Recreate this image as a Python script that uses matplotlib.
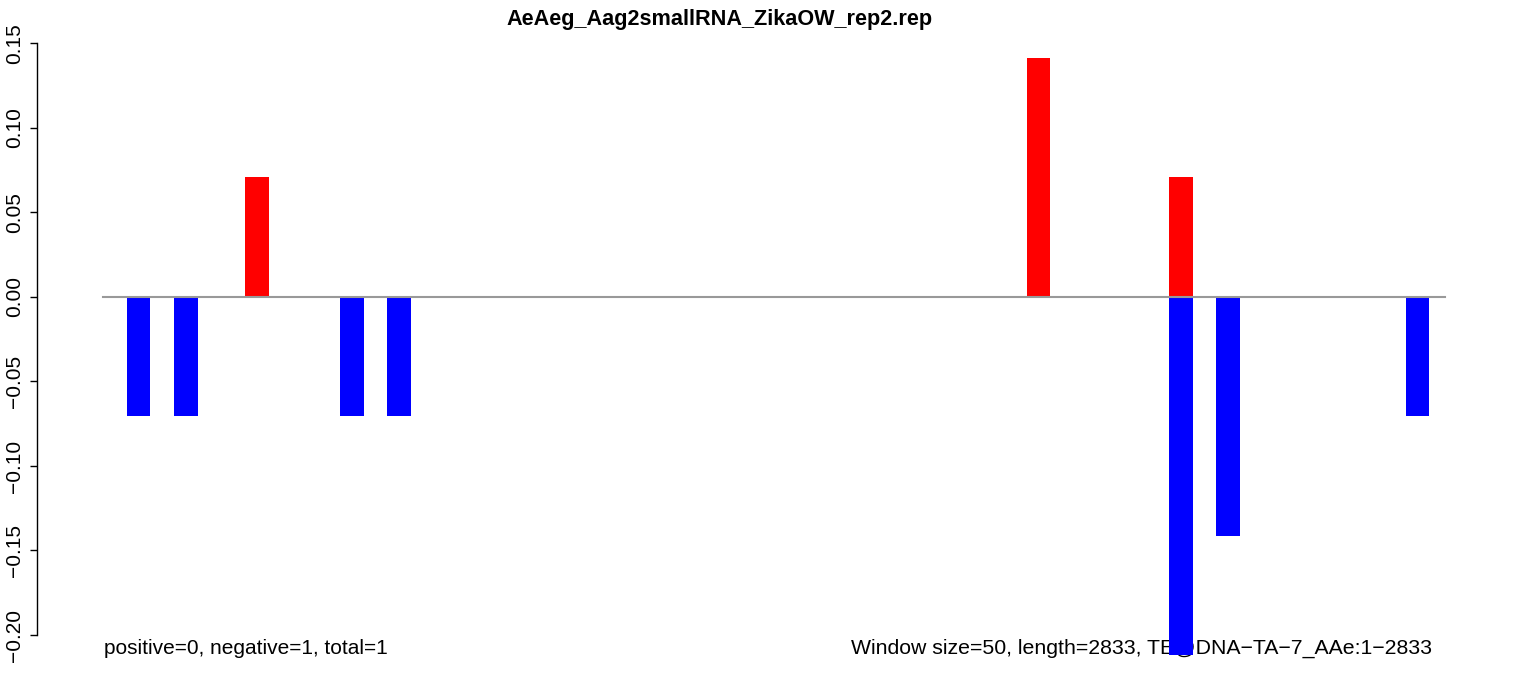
import matplotlib.pyplot as plt

plt.rcParams['font.family'] = ['Liberation Sans', 'DejaVu Sans']

title = 'AeAeg_Aag2smallRNA_ZikaOW_rep2.rep'
window = 50
length = 2833

# window start positions and normalised counts
plus_starts = [300, 1950, 2250]
plus_values = [0.0707, 0.1414, 0.0707]
minus_starts = [50, 150, 500, 600, 2250, 2350, 2750]
minus_values = [-0.0707, -0.0707, -0.0707, -0.0707, -0.2121, -0.1414, -0.0707]

yticks = [-0.20, -0.15, -0.10, -0.05, 0.00, 0.05, 0.10, 0.15]
left_note = 'positive=0, negative=1, total=1'
right_note = 'Window size=50, length=2833, TE@DNA\u2212TA\u22127_AAe:1\u22122833'

fig = plt.figure(figsize=(15.33, 6.77), dpi=100)
ax = fig.add_axes([0, 0, 1, 1])
ax.set_xlim(-217.4, 3018.8)
ax.set_ylim(-0.22483, 0.17562)

ax.text(2, -0.2077, left_note, fontsize=15, ha='left', va='center', zorder=1)
ax.text(2805, -0.2077, right_note, fontsize=15.3, ha='right', va='center', zorder=1)

ax.bar(plus_starts, plus_values, width=window, align='edge', color='#ff0000', zorder=2)
ax.bar(minus_starts, minus_values, width=window, align='edge', color='#0000ff', zorder=2)
ax.plot([0, length], [0, 0], color='#999999', lw=1.5, zorder=3)

for s in ['top', 'right', 'bottom']:
    ax.spines[s].set_visible(False)
ax.spines['left'].set_position(('data', -139.3))
ax.spines['left'].set_bounds(-0.20, 0.15)
ax.spines['left'].set_linewidth(1)
ax.set_xticks([])
ax.set_yticks(yticks)
ax.set_yticklabels([f'{v:.2f}'.replace('-', '\u2212') for v in yticks],
                   rotation=90, va='center', fontsize=15)
ax.tick_params(axis='y', direction='out', length=5, width=1, pad=4)

fig.text(720 / 1533, 1 - 20 / 677, title, fontsize=15.6, fontweight='bold',
         ha='center', va='center')

fig.savefig('out.png', dpi=100)
